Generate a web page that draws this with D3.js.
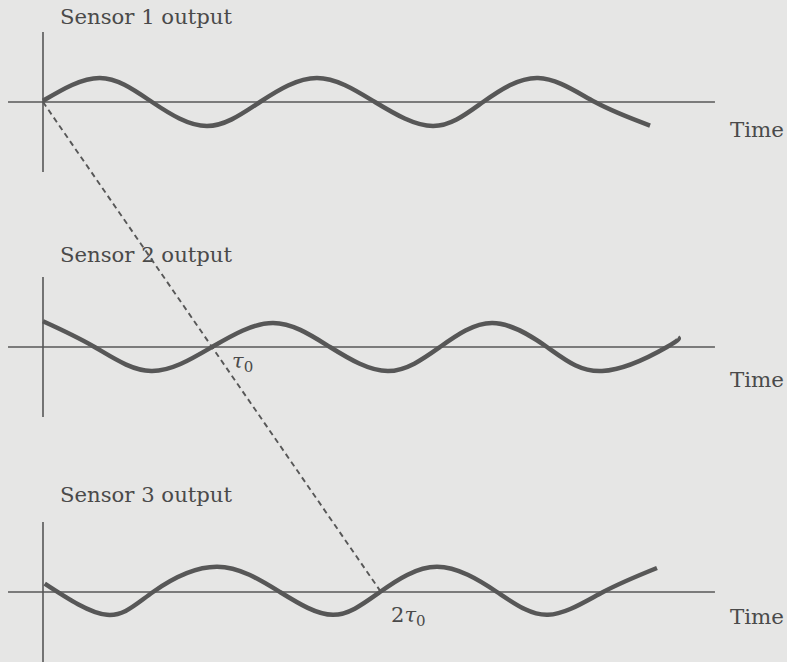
<!DOCTYPE html>
<html>
<head>
<meta charset="utf-8">
<script src="https://cdn.jsdelivr.net/npm/d3@7"></script>
<style>
  html, body { margin: 0; padding: 0; background: #e6e6e5; }
  svg { display: block; }
</style>
</head>
<body>
<svg></svg>
<script>
// time in units of tau0, signal in units of amplitude
var sensorNames = ["Sensor 1 output", "Sensor 2 output", "Sensor 3 output"];
var delays = [0, 1, 2];
var delayLabels = ["", "τ", "2τ"];

var sensor1 = [
  [0, 0.05], [0.337, 1], [0.645, 0], [0.97, -1], [1.284, 0], [1.621, 1],
  [1.964, 0], [2.308, -1], [2.604, 0], [2.929, 1], [3.266, 0], [3.592, -0.98]
];
var sensor2 = [
  [0, 1.07], [0.305, 0], [0.64, -1], [1.0, 0], [1.361, 1], [1.698, 0],
  [2.041, -1], [2.349, 0], [2.657, 1], [2.982, 0], [3.308, -1], [3.692, 0], [3.757, 0.4]
];
var sensor3 = [
  [0.01, 0.35], [0.379, -0.95], [0.651, 0], [1.03, 1.05], [1.402, 0], [1.716, -0.95],
  [1.994, 0], [2.331, 1.05], [2.686, 0], [2.988, -0.95], [3.314, 0], [3.633, 1.0]
];
var sensors = [sensor1, sensor2, sensor3];

var width = 787,
    height = 662;

var svg = d3.select("svg")
    .attr("width", width)
    .attr("height", height);

var ink = "#575757";
var textInk = "#4a4a4a";

// shared time scale (tau0 = 169px)
var x = d3.scaleLinear().domain([0, 4]).range([43, 719]);
var xAxisExtent = [-0.207, 3.976];

// panel baselines
var panelY = [102, 347, 592];
var titleY = [24, 262, 502];
var timeY = [137, 387, 624];

sensors.forEach(function(data, i) {
    var y = d3.scaleLinear().domain([-1, 1]).range([panelY[i] + 24, panelY[i] - 24]);
    var g = svg.append("g");

    // horizontal axis
    g.append("line")
        .attr("x1", x(xAxisExtent[0])).attr("x2", x(xAxisExtent[1]))
        .attr("y1", y(0)).attr("y2", y(0))
        .attr("stroke", ink).attr("stroke-width", 1.6);

    // vertical axis
    g.append("line")
        .attr("x1", x(0)).attr("x2", x(0))
        .attr("y1", y(2.92)).attr("y2", y(-2.92))
        .attr("stroke", ink).attr("stroke-width", 1.6);

    // waveform
    g.append("path")
        .attr("d", d3.line().curve(d3.curveNatural).x(d => x(d[0])).y(d => y(d[1]))(data))
        .attr("fill", "none")
        .attr("stroke", ink)
        .attr("stroke-width", 4.5);

    g.append("text")
        .attr("x", 60).attr("y", titleY[i])
        .attr("font-family", "DejaVu Serif")
        .attr("font-size", 21)
        .attr("textLength", 172)
        .attr("lengthAdjust", "spacingAndGlyphs")
        .attr("fill", textInk)
        .text(sensorNames[i]);

    g.append("text")
        .attr("x", 730).attr("y", timeY[i])
        .attr("font-family", "DejaVu Serif")
        .attr("font-size", 20)
        .attr("textLength", 54)
        .attr("lengthAdjust", "spacingAndGlyphs")
        .attr("fill", textInk)
        .text("Time");
});

// dashed delay line through the delayed crossings
var delayPts = delays.map((d, i) => [x(d), panelY[i]]);
svg.append("line")
    .attr("x1", delayPts[0][0]).attr("y1", delayPts[0][1])
    .attr("x2", delayPts[2][0]).attr("y2", delayPts[2][1])
    .attr("stroke", ink)
    .attr("stroke-width", 1.9)
    .attr("stroke-dasharray", "5.5,4");

// tau labels
var labelPos = [null, [20, 21], [10, 30]];
delays.forEach(function(d, i) {
    if (!delayLabels[i]) return;
    var t = svg.append("text")
        .attr("x", x(d) + labelPos[i][0])
        .attr("y", panelY[i] + labelPos[i][1])
        .attr("font-family", "DejaVu Serif")
        .attr("font-size", 21)
        .attr("fill", textInk);
    if (delayLabels[i].length > 1) {
        t.append("tspan").text(delayLabels[i].slice(0, -1));
    }
    t.append("tspan").attr("font-style", "italic").text("τ");
    t.append("tspan").attr("font-size", 15).attr("dy", 4).text("0");
});
</script>
</body>
</html>
